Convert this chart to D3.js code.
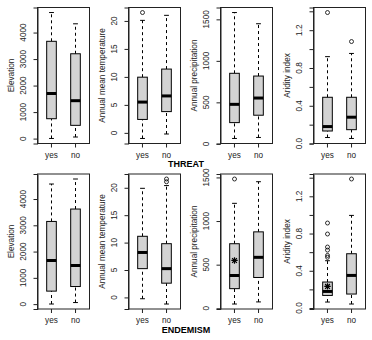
<!DOCTYPE html>
<html>
<head>
<meta charset="utf-8">
<script src="https://cdn.jsdelivr.net/npm/d3@7"></script>
<style>
  body { margin: 0; background: #fff; }
  svg text { font-family: "Liberation Sans", Arial, sans-serif; fill: #222; }
</style>
</head>
<body>
<svg width="372" height="340"></svg>
<script>
var groups = ['yes', 'no'];
var variables = ['Elevation', 'Annual mean temperature', 'Annual precipitation', 'Aridity index'];
var rowTitles = ['THREAT', 'ENDEMISM'];

// [lower whisker, q1, median, q3, upper whisker] for each variable
var threatYes = [
    [5, 750, 1700, 3670, 4755],
    [-1.0, 2.4, 5.5, 9.95, 20.1],
    [65, 256, 476, 850, 1582],
    [0.064, 0.133, 0.18, 0.49, 0.92]
];
var threatNo = [
    [60, 500, 1430, 3200, 4330],
    [-0.2, 3.8, 6.6, 11.4, 21.0],
    [77, 345, 552, 817, 1447],
    [0.054, 0.147, 0.279, 0.49, 0.954]
];
var threatYesOut = [[], [21.5], [], [1.387]];
var threatNoOut = [[], [], [], [1.08]];

var endemYes = [
    [5, 495, 1661, 3147, 4571],
    [-0.24, 5.25, 8.2, 11.15, 19.9],
    [49, 225, 376, 740, 1203],
    [0.064, 0.135, 0.178, 0.279, 0.508]
];
var endemNo = [
    [60, 670, 1470, 3619, 4762],
    [-1.2, 2.6, 5.25, 9.8, 20.4],
    [73, 353, 584, 876, 1451],
    [0.043, 0.15, 0.35, 0.583, 0.995]
];
var endemYesOut = [[], [], [1482], [0.913, 0.795, 0.655, 0.622, 0.565, 0.545]];
var endemNoOut = [[], [21.1, 21.6], [], [1.386]];
var endemYesMean = [null, null, 548, 0.232];

var yTicks = [
    [0, 1000, 2000, 3000, 4000],
    [0, 5, 10, 15, 20],
    [0, 500, 1000, 1500],
    [0, 0.2, 0.4, 0.6, 0.8, 1.0, 1.2, 1.4]
];
var yTickLabels = [
    ['0', '1000', '2000', '3000', '4000'],
    ['0', '5', '10', '15', '20'],
    ['0', '500', '1000', '1500'],
    ['0.0', '', '0.4', '', '0.8', '', '1.2', '']
];

var rows = [
    { title: rowTitles[0], stats: [threatYes, threatNo], out: [threatYesOut, threatNoOut], mean: [[null, null, null, null], [null, null, null, null]] },
    { title: rowTitles[1], stats: [endemYes, endemNo], out: [endemYesOut, endemNoOut], mean: [endemYesMean, [null, null, null, null]] }
];

var panelLeft = [37, 128, 220, 313];
var panelW = 52;
var rowTop = [7.5, 174];
var rowBottom = [143.5, 309];
var fs = 8.2;

var svg = d3.select('svg');

rows.forEach(function(row, r) {
    variables.forEach(function(name, v) {
        var left = panelLeft[v];
        var g = svg.append('g');

        var x = d3.scaleLinear()
            .domain([0.42, 2.58])
            .range([left, left + panelW]);

        var all = [];
        [0, 1].forEach(function(k) {
            all = all.concat(row.stats[k][v], row.out[k][v]);
        });
        var lo = d3.min(all), hi = d3.max(all);
        var pad = (hi - lo) * 0.04;
        var y = d3.scaleLinear()
            .domain([lo - pad, hi + pad])
            .range([rowBottom[r], rowTop[r]]);

        var boxW = x(1.4) - x(1);

        groups.forEach(function(grp, k) {
            var s = row.stats[k][v];
            var cx = Math.round(x(k + 1)) + 0.5;

            // whiskers
            g.append('line')
                .attr('x1', cx).attr('x2', cx)
                .attr('y1', y(s[0])).attr('y2', y(s[1]))
                .attr('stroke', '#000').attr('stroke-dasharray', '3,3');
            g.append('line')
                .attr('x1', cx).attr('x2', cx)
                .attr('y1', y(s[3])).attr('y2', y(s[4]))
                .attr('stroke', '#000').attr('stroke-dasharray', '3,3');
            [s[0], s[4]].forEach(function(val) {
                g.append('line')
                    .attr('x1', cx - boxW / 4).attr('x2', cx + boxW / 4)
                    .attr('y1', y(val)).attr('y2', y(val))
                    .attr('stroke', '#000');
            });

            g.append('rect')
                .attr('x', cx - boxW / 2)
                .attr('y', y(s[3]))
                .attr('width', boxW)
                .attr('height', y(s[1]) - y(s[3]))
                .attr('fill', '#d3d3d3')
                .attr('stroke', '#000')
                .attr('stroke-width', 1);

            g.append('line')
                .attr('x1', cx - boxW / 2).attr('x2', cx + boxW / 2)
                .attr('y1', y(s[2])).attr('y2', y(s[2]))
                .attr('stroke', '#000').attr('stroke-width', 3);

            g.selectAll(null)
                .data(row.out[k][v])
                .enter()
                .append('circle')
                .attr('cx', cx)
                .attr('cy', function(d) { return y(d); })
                .attr('r', 2)
                .attr('fill', 'none')
                .attr('stroke', '#000')
                .attr('stroke-width', 0.8);

            var m = row.mean[k][v];
            if (m !== null) {
                var my = y(m), a = 3.2;
                g.append('path')
                    .attr('d', 'M' + (cx - a) + ',' + my + 'H' + (cx + a) +
                        'M' + cx + ',' + (my - a) + 'V' + (my + a) +
                        'M' + (cx - a * 0.75) + ',' + (my - a * 0.75) + 'L' + (cx + a * 0.75) + ',' + (my + a * 0.75) +
                        'M' + (cx - a * 0.75) + ',' + (my + a * 0.75) + 'L' + (cx + a * 0.75) + ',' + (my - a * 0.75))
                    .attr('stroke', '#000')
                    .attr('stroke-width', 1.2);
            }
        });

        // frame
        g.append('rect')
            .attr('x', left + 0.5)
            .attr('y', rowTop[r])
            .attr('width', panelW)
            .attr('height', rowBottom[r] - rowTop[r])
            .attr('fill', 'none')
            .attr('stroke', '#222');

        // y axis
        var yAxis = d3.axisLeft(y)
            .tickValues(yTicks[v])
            .tickSize(4)
            .tickFormat('');
        g.append('g')
            .attr('class', 'y axis')
            .attr('transform', 'translate(' + (left + 0.5) + ',0)')
            .call(yAxis)
            .call(function(sel) {
                sel.select('.domain').attr('stroke', '#222');
                sel.selectAll('.tick line').attr('stroke', '#222');
            });

        g.selectAll(null)
            .data(yTicks[v])
            .enter()
            .append('text')
            .attr('transform', function(d) {
                return 'translate(' + (left - 13.5) + ',' + y(d) + ') rotate(-90)';
            })
            .attr('text-anchor', 'middle')
            .attr('dy', '0.35em')
            .style('font-size', fs + 'px')
            .text(function(d, i) { return yTickLabels[v][i]; });

        g.append('text')
            .attr('transform', 'translate(' + (left - 26) + ',' + ((rowTop[r] + rowBottom[r]) / 2) + ') rotate(-90)')
            .attr('text-anchor', 'middle')
            .attr('dy', '0.35em')
            .style('font-size', fs + 'px')
            .text(name);

        // x axis
        var xAxis = d3.axisBottom(x)
            .tickValues([1, 2])
            .tickSize(4)
            .tickFormat('');
        g.append('g')
            .attr('class', 'x axis')
            .attr('transform', 'translate(0,' + rowBottom[r] + ')')
            .call(xAxis)
            .call(function(sel) {
                sel.select('.domain').remove();
                sel.selectAll('.tick line').attr('stroke', '#222');
            });

        g.selectAll(null)
            .data(groups)
            .enter()
            .append('text')
            .attr('x', function(d, i) { return x(i + 1) + 0.5; })
            .attr('y', rowBottom[r] + 14)
            .attr('text-anchor', 'middle')
            .style('font-size', fs + 'px')
            .text(function(d) { return d; });
    });

    svg.append('text')
        .attr('x', 186)
        .attr('y', rowBottom[r] + 23.5)
        .attr('text-anchor', 'middle')
        .style('font-size', '9px')
        .style('font-weight', 'bold')
        .style('fill', '#000')
        .text(row.title);
});
</script>
</body>
</html>
